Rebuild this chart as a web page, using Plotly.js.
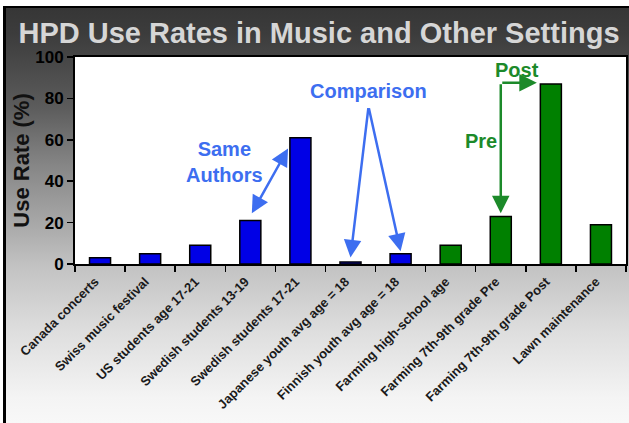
<!DOCTYPE html>
<html>
<head>
<meta charset="utf-8">
<script src="https://cdn.plot.ly/plotly-3.0.1.min.js"></script>
<style>
  html, body { margin: 0; padding: 0; background: #ffffff; width: 629px; height: 423px; overflow: hidden; }
  #frame {
    position: absolute; left: 3px; top: 6px; width: 626px; height: 417px;
    border-top: 2px solid #000; border-left: 3px solid #000; box-sizing: border-box;
    background: linear-gradient(to bottom, #363636 0%, #3c3c3c 6%, #464646 12%, #5c5c5c 24%, #868686 38%, #a8a8a8 52%, #c2c2c2 62%, #dedede 78%, #f4f4f4 94%, #f8f8f8 100%);
  }
  #chart { position: absolute; left: 0; top: 0; width: 629px; height: 423px; }
</style>
</head>
<body>
<div id="frame"></div>
<div id="chart"></div>
<script>
const categories = [
  'Canada concerts', 'Swiss music festival', 'US students age 17-21',
  'Swedish students 13-19', 'Swedish students 17-21', 'Japanese youth avg age = 18',
  'Finnish youth avg age = 18', 'Farming high-school age', 'Farming 7th-9th grade Pre',
  'Farming 7th-9th grade Post', 'Lawn maintenance'
];
const useRates = [3, 5, 9, 21, 61, 1, 5, 9, 23, 87, 19];
const settingGroup = ['Music', 'Music', 'Music', 'Music', 'Music', 'Music', 'Music',
                      'Other', 'Other', 'Other', 'Other'];
const yTickValues = [0, 20, 40, 60, 80, 100];

const groupColor = { Music: '#0000e6', Other: '#008000' };
const blueNote = '#3d6ef0';
const greenNote = '#1c8a2a';
const font = '"Liberation Sans", Arial, sans-serif';

const trace = {
  type: 'bar',
  x: categories,
  y: useRates,
  width: 0.42,
  marker: {
    color: settingGroup.map(g => groupColor[g]),
    line: { color: '#000', width: 1.5 }
  },
  hoverinfo: 'x+y'
};

function arrow(x, y, ax, ay, color, extra) {
  return Object.assign({
    x: x, y: y, ax: ax, ay: ay, xref: 'x', yref: 'y', axref: 'x', ayref: 'y',
    text: '', showarrow: true, arrowcolor: color, arrowwidth: 2.5,
    arrowhead: 2, arrowsize: 1.4
  }, extra || {});
}

function label(text, x, y, color) {
  return {
    text: text, x: x, y: y, xref: 'x', yref: 'y',
    showarrow: false, font: { family: font, size: 20, color: color, weight: 'bold' },
    xanchor: 'center', yanchor: 'middle'
  };
}

const annotations = [
  label('Same<br>Authors', 2.48, 49.5, blueNote),
  arrow(3.03, 24.5, 3.77, 56.5, blueNote, { arrowside: 'end+start', startarrowhead: 2, startarrowsize: 1.4 }),
  label('Comparison', 5.36, 83.5, blueNote),
  arrow(5.0, 3.2, 5.36, 76, blueNote),
  arrow(6.0, 6.2, 5.36, 76, blueNote),
  label('Pre', 7.6, 59.5, greenNote),
  label('Post', 8.32, 93.5, greenNote),
  arrow(8.0, 24.5, 8.0, 87.5, greenNote),
  arrow(8.72, 87.5, 8.0, 87.5, greenNote)
];

const layout = {
  width: 629, height: 423,
  margin: { l: 75, r: 3, t: 57, b: 159 },
  paper_bgcolor: 'rgba(0,0,0,0)',
  plot_bgcolor: '#ffffff',
  showlegend: false,
  title: {
    text: 'HPD Use Rates in Music and Other Settings',
    font: { family: font, size: 29, color: '#d6d6d6', weight: 'bold' },
    x: 319 / 629, xref: 'container', xanchor: 'center',
    y: 1 - 32.5 / 423, yref: 'container', yanchor: 'middle'
  },
  xaxis: {
    type: 'category',
    tickangle: -45,
    tickson: 'boundaries',
    ticks: 'outside', ticklen: 6, tickwidth: 1.5, tickcolor: '#000',
    showline: true, linecolor: '#000', linewidth: 2, mirror: true,
    showgrid: false, zeroline: false,
    tickfont: { family: font, size: 13, color: '#1a1a1a', weight: 'bold' },
    ticklabelstandoff: 3,
    ticklabelshift: -5,
    range: [-0.5, 10.5],
    automargin: false
  },
  yaxis: {
    range: [0, 100],
    tickvals: yTickValues,
    ticks: 'outside', ticklen: 6, tickwidth: 1.5, tickcolor: '#000',
    showline: true, linecolor: '#000', linewidth: 2, mirror: true,
    showgrid: false, zeroline: false,
    tickfont: { family: font, size: 17, color: '#000', weight: 'bold' },
    title: {
      text: 'Use Rate (%)',
      font: { family: font, size: 22, color: '#111', weight: 'bold' },
      standoff: 0
    },
    automargin: false
  },
  annotations: annotations
};

Plotly.newPlot('chart', [trace], layout, { displayModeBar: false, staticPlot: true });
</script>
</body>
</html>
